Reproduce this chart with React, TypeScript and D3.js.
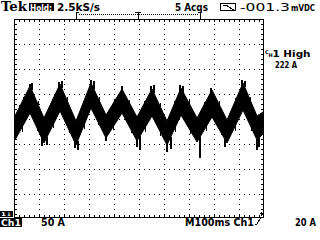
import React from 'react';
import * as d3 from 'd3';

// Time axis (ms, 100 ms/div) and current (A, 50 A/div)
const TIME_MS = [0, 4, 64, 120, 184, 248, 308, 368, 432, 492, 552, 612, 668, 732, 792, 852, 916, 972, 996, 1000];
const UPPER_A = [204, 206, 266, 202, 270, 196, 272, 208, 260, 204, 260, 196, 262, 202, 258, 198, 272, 206, 214, 216];
const LOWER_A = [156, 158, 212, 152, 216, 148, 222, 162, 212, 156, 206, 148, 208, 154, 204, 152, 218, 158, 170, 172];

// Noise spikes (large ones)
const SPIKE_DOWN_T = [108, 128, 240, 252, 364, 488, 500, 608, 624, 740, 840, 968, 976];
const SPIKE_DOWN_A = [146, 148, 142, 138, 156, 144, 138, 134, 140, 122, 144, 138, 144];
const SPIKE_UP_T = [60, 68, 176, 188, 304, 316, 428, 544, 556, 660, 672, 784, 908, 920];
const SPIKE_UP_A = [270, 272, 274, 276, 278, 276, 266, 266, 268, 268, 266, 262, 278, 276];

// Small burrs along the band edges
const BURR_UP_T = [20, 36, 96, 150, 212, 276, 340, 400, 460, 520, 584, 640, 700, 760, 820, 884, 944];
const BURR_UP_A = [228, 244, 236, 240, 244, 236, 244, 240, 238, 236, 232, 236, 238, 234, 236, 242, 244];
const BURR_DOWN_T = [30, 92, 156, 218, 280, 336, 396, 466, 522, 586, 642, 704, 766, 826, 882, 948];
const BURR_DOWN_A = [174, 176, 182, 172, 180, 188, 178, 172, 175, 166, 174, 170, 176, 168, 176, 176];

const X_GRID_MS = [100, 200, 300, 400, 500, 600, 700, 800, 900];
const Y_GRID_A = [50, 100, 150, 200, 250, 300, 350];

const FONT = "'DejaVu Sans', sans-serif";

export default function App() {
  const x = d3.scaleLinear().domain([0, 1000]).range([14, 264]);
  const y = d3.scaleLinear().domain([0, 400]).range([219, 19]);
  const lowerAt = d3.scaleLinear().domain(TIME_MS).range(LOWER_A);
  const upperAt = d3.scaleLinear().domain(TIME_MS).range(UPPER_A);

  const L = 14, R = 263, T = 19, B = 217;

  const area = d3
    .area<number>()
    .x((_, i) => x(TIME_MS[i]))
    .y0((_, i) => y(LOWER_A[i]))
    .y1((_, i) => y(UPPER_A[i]));

  const ticksX = d3.range(L, R + 1, 5);
  const ticksY = d3.range(T, B + 1, 5);

  const downs = [
    ...SPIKE_DOWN_T.map((t, i) => ({ t, a: SPIKE_DOWN_A[i], w: 2 })),
    ...BURR_DOWN_T.map((t, i) => ({ t, a: BURR_DOWN_A[i], w: 1 })),
  ];
  const ups = [
    ...SPIKE_UP_T.map((t, i) => ({ t, a: SPIKE_UP_A[i], w: 2 })),
    ...BURR_UP_T.map((t, i) => ({ t, a: BURR_UP_A[i], w: 1 })),
  ];

  return (
    <svg
      width={320}
      height={240}
      style={{ position: 'absolute', left: 0, top: 0, background: '#fff' }}
    >
      <rect width={320} height={240} fill="#fff" />
      <defs>
        <clipPath id="plot">
          <rect x={L} y={T} width={R - L + 1} height={B - T + 1} />
        </clipPath>
      </defs>
      <g shapeRendering="crispEdges" stroke="#000" strokeWidth={1}>
        <rect x={L + 0.5} y={T + 0.5} width={R - L} height={B - T} fill="none" />
        {ticksX.map((t) => (
          <g key={'tx' + t}>
            <line x1={t + 0.5} x2={t + 0.5} y1={T} y2={T + 3} />
            <line x1={t + 0.5} x2={t + 0.5} y1={B + 1} y2={B - 2} />
          </g>
        ))}
        {ticksY.map((t) => (
          <g key={'ty' + t}>
            <line x1={L} x2={L + 3} y1={t + 0.5} y2={t + 0.5} />
            <line x1={R + 1} x2={R - 2} y1={t + 0.5} y2={t + 0.5} />
          </g>
        ))}
        {X_GRID_MS.map((m) => (
          <line
            key={'gx' + m}
            x1={Math.round(x(m)) + 0.5}
            x2={Math.round(x(m)) + 0.5}
            y1={T}
            y2={B}
            strokeDasharray="1 4"
          />
        ))}
        {Y_GRID_A.map((a) => (
          <line
            key={'gy' + a}
            x1={L}
            x2={R}
            y1={Math.round(y(a)) + 0.5}
            y2={Math.round(y(a)) + 0.5}
            strokeDasharray="1 4"
          />
        ))}
      </g>

      {/* waveform */}
      <g clipPath="url(#plot)">
        <path d={area(TIME_MS) || ''} fill="#000" stroke="#000" strokeWidth={1} />
        <g shapeRendering="crispEdges" fill="#000">
          {downs.map((s, i) => (
            <rect
              key={'sd' + i}
              x={Math.round(x(s.t))}
              width={s.w}
              y={y(lowerAt(s.t) + 4)}
              height={y(s.a) - y(lowerAt(s.t) + 4)}
            />
          ))}
          {ups.map((s, i) => (
            <rect
              key={'su' + i}
              x={Math.round(x(s.t))}
              width={s.w}
              y={y(s.a)}
              height={y(upperAt(s.t) - 4) - y(s.a)}
            />
          ))}
        </g>
      </g>

      {/* top status line */}
      <g fontFamily={FONT} fontWeight="bold" fill="#000">
        <text x={1} y={11} fontFamily="'DejaVu Serif', serif" fontSize={12} textLength={26} lengthAdjust="spacingAndGlyphs">Tek</text>
        <rect x={29} y={3} width={25} height={8} fill="#000" />
        <text x={30} y={10.5} fontSize={9} fill="#fff" textLength={22} lengthAdjust="spacingAndGlyphs">Hold:</text>
        <text x={57} y={11} fontSize={11} textLength={43} lengthAdjust="spacingAndGlyphs">2.5kS/s</text>
        <text x={175} y={11} fontSize={11} textLength={33} lengthAdjust="spacingAndGlyphs">5 Acqs</text>
        <text x={240} y={11} fontSize={11} fontWeight="normal" textLength={50} lengthAdjust="spacingAndGlyphs">-001.3</text>
        <text x={291} y={11} fontSize={8} textLength={24} lengthAdjust="spacingAndGlyphs">mVDC</text>
      </g>
      <g shapeRendering="crispEdges" stroke="#000" fill="none">
        <rect x={220.5} y={3.5} width={15} height={7} />
        <polyline points="223,6 226,5 229,7 232,9 234,9" />
      </g>
      <g stroke="#000" fill="none" shapeRendering="crispEdges">
        <line x1={76.5} x2={76.5} y1={12} y2={19} />
        <line x1={76} x2={79} y1={12.5} y2={12.5} />
        <line x1={79} x2={199} y1={14.5} y2={14.5} strokeDasharray="1 1" />
        <line x1={135} x2={141} y1={12.5} y2={12.5} />
        <line x1={138.5} x2={138.5} y1={12} y2={19} />
        <line x1={200.5} x2={200.5} y1={12} y2={19} />
        <line x1={198} x2={201} y1={12.5} y2={12.5} />
      </g>

      {/* right readout */}
      <g fontFamily={FONT} fontWeight="bold" fill="#000">
        <text x={265} y={57}>
          <tspan fontSize={5} dy={-3}>C</tspan>
          <tspan fontSize={5} x={268.5} dy={3}>H</tspan>
          <tspan fontSize={9} x={272.5} textLength={38} lengthAdjust="spacingAndGlyphs">1 High</tspan>
        </text>
        <text x={275} y={67.5} fontSize={9} textLength={22} lengthAdjust="spacingAndGlyphs">222 A</text>
      </g>

      {/* bottom line */}
      <rect x={0} y={211} width={13} height={6} fill="#000" />
      <text x={1} y={216} fontFamily={FONT} fontWeight="bold" fontSize={5} fill="#fff" textLength={11} lengthAdjust="spacingAndGlyphs">1↓</text>
      <rect x={0} y={218} width={22} height={9} fill="#000" />
      <g fontFamily={FONT} fontWeight="bold">
        <text x={1} y={226} fontSize={9} fill="#fff" textLength={20} lengthAdjust="spacingAndGlyphs">Ch1</text>
        <text x={41} y={226} fontSize={10} fill="#000" textLength={24} lengthAdjust="spacingAndGlyphs">50 A</text>
        <text x={185} y={226} fontSize={10} fill="#000" textLength={69} lengthAdjust="spacingAndGlyphs">M100ms Ch1</text>
        <text x={295} y={226} fontSize={10} fill="#000" textLength={21} lengthAdjust="spacingAndGlyphs">20 A</text>
      </g>
      <g stroke="#000" fill="none" shapeRendering="crispEdges">
        <polyline points="255,224 257,224 261,217" />
        <line x1={261.5} x2={261.5} y1={212} y2={216} />
        <line x1={260} x2={263} y1={213.5} y2={213.5} />
      </g>
    </svg>
  );
}
